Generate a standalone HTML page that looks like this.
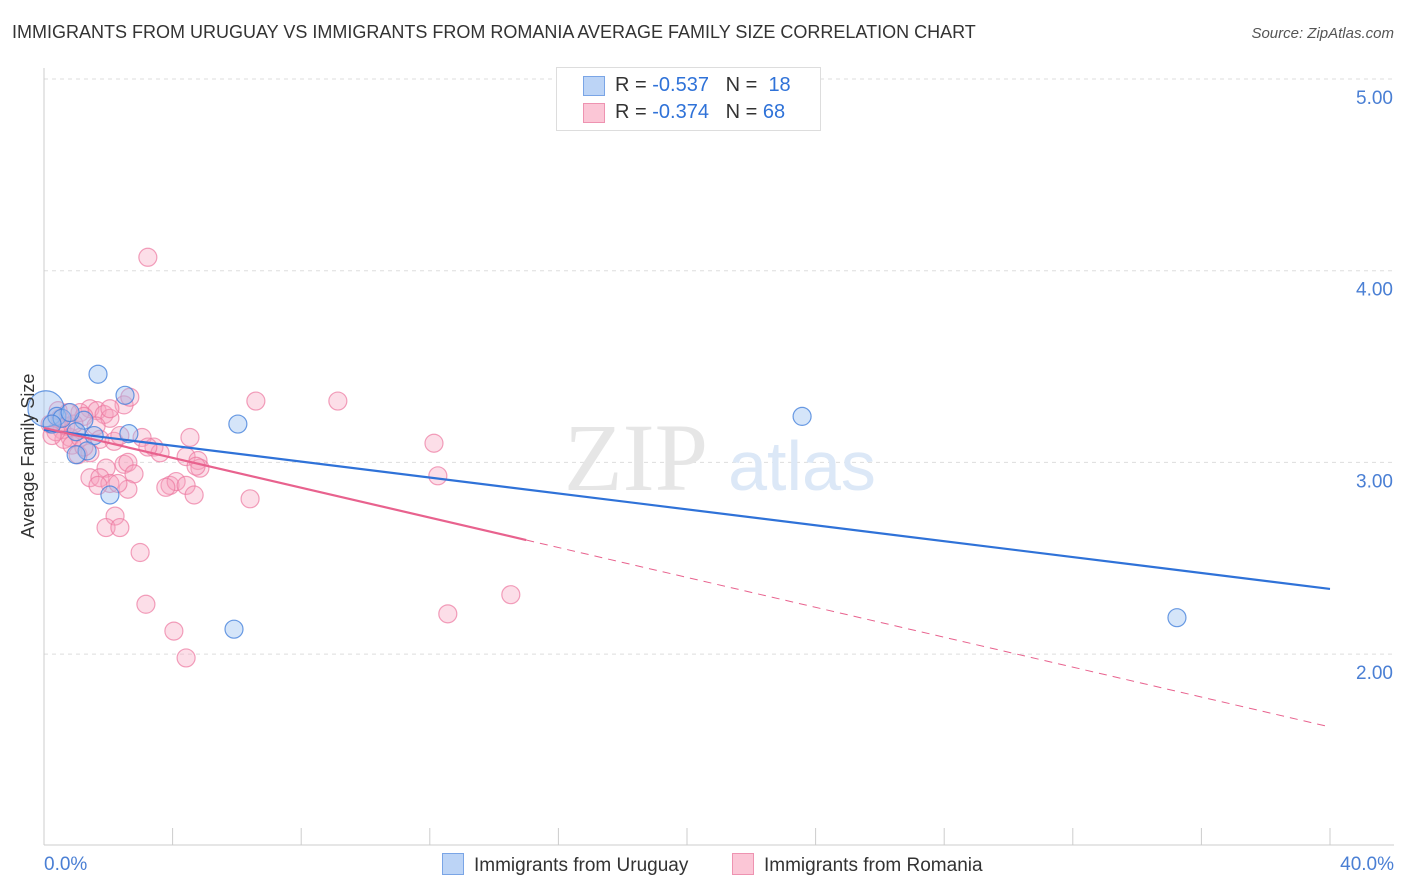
<!DOCTYPE html>
<html><head><meta charset="utf-8">
<style>
body{margin:0;background:#fff;font-family:"Liberation Sans",sans-serif;}
#wrap{position:relative;width:1406px;height:892px;overflow:hidden;}
.t{position:absolute;white-space:nowrap;}
</style></head>
<body>
<div id="wrap">
<div class="t" style="left:12px;top:22px;font-size:18px;color:#333;">IMMIGRANTS FROM URUGUAY VS IMMIGRANTS FROM ROMANIA AVERAGE FAMILY SIZE CORRELATION CHART</div>
<div class="t" style="right:12px;top:25px;font-size:15px;color:#555;font-style:italic;">Source: ZipAtlas.com</div>
<svg id="svg" width="1406" height="892" style="position:absolute;left:0;top:0"></svg>
</div>
<script>
const yTicks=[2,3,4,5];
const yTickLabels=["2.00","3.00","4.00","5.00"];
const xTickLabels=["0.0%","40.0%"];
const uruguayX=[0.06,0.40,0.56,1.68,2.52,1.24,1.00,1.56,2.64,6.03,1.34,1.00,2.05,5.91,23.58,35.24,0.25,0.81];
const uruguayY=[3.28,3.24,3.23,3.46,3.35,3.22,3.16,3.14,3.15,3.20,3.06,3.04,2.83,2.13,3.24,2.19,3.20,3.26];
const romaniaX=[3.23,2.49,2.67,6.59,9.14,1.43,1.65,1.87,1.12,2.05,1.24,1.62,0.56,0.81,0.62,1.74,2.18,3.05,4.54,3.42,3.61,4.42,4.79,4.85,1.93,2.49,2.61,2.80,1.43,1.74,2.05,1.68,2.61,2.30,3.92,4.11,4.42,3.79,4.67,6.41,2.21,1.93,2.36,2.99,3.17,4.04,4.42,12.13,12.25,12.56,14.52,0.87,1.12,0.68,0.37,0.93,0.50,0.19,0.25,0.44,1.43,1.06,0.75,2.05,1.24,2.36,3.23,4.73];
const romaniaY=[4.07,3.30,3.34,3.32,3.32,3.28,3.27,3.25,3.26,3.23,3.24,3.19,3.17,3.13,3.12,3.12,3.11,3.13,3.13,3.08,3.05,3.03,3.01,2.97,2.97,2.99,3.00,2.94,2.92,2.92,2.89,2.88,2.86,2.89,2.88,2.90,2.88,2.87,2.83,2.81,2.72,2.66,2.66,2.53,2.26,2.12,1.98,3.10,2.93,2.21,2.31,3.09,3.13,3.19,3.16,3.20,3.23,3.20,3.14,3.27,3.05,3.04,3.26,3.28,3.08,3.14,3.08,2.98];
const uruguayLine=[3.17,2.34]; // value at 0% and 40%
const romaniaLine=[3.18,1.62];
const romaniaSolidEnd=15;

const X=p=>44+p/40*1286;
const Y=v=>79+(5-v)*191.7;
const svg=document.getElementById('svg');
const NS='http://www.w3.org/2000/svg';
function mk(tag,attrs){const e=document.createElementNS(NS,tag);for(const k in attrs)e.setAttribute(k,attrs[k]);svg.appendChild(e);return e;}
// grid
yTicks.forEach((v,i)=>{
 const g=mk('line',{x1:44,x2:1394,y1:Y(v),y2:Y(v),stroke:'#ddd','stroke-dasharray':'4,4'});
 
 
 const t=mk('text',{x:1393,y:Y(v)+25,'text-anchor':'end','font-size':19,fill:'#4a7fd4','font-family':'Liberation Sans'});
 t.textContent=yTickLabels[i];
 
 
});
const ax=mk('line',{x1:44,x2:44,y1:68,y2:845,stroke:'#ccc'});


const bx=mk('line',{x1:44,x2:1394,y1:845,y2:845,stroke:'#ccc'});


for(let i=0;i<=10;i++){const tk=mk('line',{x1:X(i*4),x2:X(i*4),y1:828,y2:845,stroke:'#ccc'});
 
 }
[[0,'start',44],[40,'end',1394]].forEach((d,i)=>{const t=mk('text',{x:d[2],y:870,'text-anchor':d[1],'font-size':19,fill:'#4a7fd4','font-family':'Liberation Sans'});t.textContent=xTickLabels[i];
 
 });
// watermark
const w1=mk('text',{x:636,y:490,'text-anchor':'middle','font-size':96,fill:'#e6e6e6','font-family':'Liberation Serif'});w1.textContent='ZIP';


const w2=mk('text',{x:802,y:490,'text-anchor':'middle','font-size':70,fill:'#dce8f7','font-family':'Liberation Sans'});w2.textContent='atlas';


// points
romaniaX.forEach((x,i)=>{const c=mk('circle',{cx:X(x),cy:Y(romaniaY[i]),r:9,fill:'rgba(246,160,190,0.35)',stroke:'rgba(236,120,160,0.7)','stroke-width':1.2});
 
 });
uruguayX.forEach((x,i)=>{const c=mk('circle',{cx:X(x),cy:Y(uruguayY[i]),r:i===0?18:9,fill:'rgba(150,190,240,0.4)',stroke:'rgba(70,130,220,0.8)','stroke-width':1.2});
 
 });
// trend lines
const ul=mk('line',{x1:X(0),y1:Y(uruguayLine[0]),x2:X(40),y2:Y(uruguayLine[1]),stroke:'#2f72d8','stroke-width':2.2});


const rEnd=romaniaLine[0]+(romaniaLine[1]-romaniaLine[0])*romaniaSolidEnd/40;
const rl=mk('line',{x1:X(0),y1:Y(romaniaLine[0]),x2:X(romaniaSolidEnd),y2:Y(rEnd),stroke:'#e8628e','stroke-width':2.2});


const rd=mk('line',{x1:X(romaniaSolidEnd),y1:Y(rEnd),x2:X(40),y2:Y(romaniaLine[1]),stroke:'#e8628e','stroke-width':1,'stroke-dasharray':'8,6'});


// y title
const yt=mk('text',{x:34,y:456,transform:'rotate(-90 34 456)','text-anchor':'middle','font-size':18,fill:'#333','font-family':'Liberation Sans'});yt.textContent='Average Family Size';


</script>
<div class="t" style="left:556px;top:67px;width:263px;height:62px;border:1px solid #ddd;background:#fff;font-size:20px;color:#333;">
 <div style="position:absolute;left:26px;top:8px;width:20px;height:18px;background:#bcd4f6;border:1px solid #7aa5e6;"></div>
 <div style="position:absolute;left:58px;top:6px;">R = <span style="color:#2f72d8">-0.537</span>&nbsp;&nbsp;&nbsp;N = &nbsp;<span style="color:#2f72d8">18</span></div>
 <div style="position:absolute;left:26px;top:35px;width:20px;height:18px;background:#fbc6d6;border:1px solid #ee93b1;"></div>
 <div style="position:absolute;left:58px;top:33px;">R = <span style="color:#2f72d8">-0.374</span>&nbsp;&nbsp;&nbsp;N = <span style="color:#2f72d8">68</span></div>
</div>
<div class="t" style="left:442px;top:853px;font-size:19px;color:#333;"><span style="display:inline-block;width:20px;height:20px;background:#bcd4f6;border:1px solid #7aa5e6;vertical-align:-4px;margin-right:10px;"></span>Immigrants from Uruguay</div>
<div class="t" style="left:732px;top:853px;font-size:19px;color:#333;"><span style="display:inline-block;width:20px;height:20px;background:#fbc6d6;border:1px solid #ee93b1;vertical-align:-4px;margin-right:10px;"></span>Immigrants from Romania</div>
</body></html>
